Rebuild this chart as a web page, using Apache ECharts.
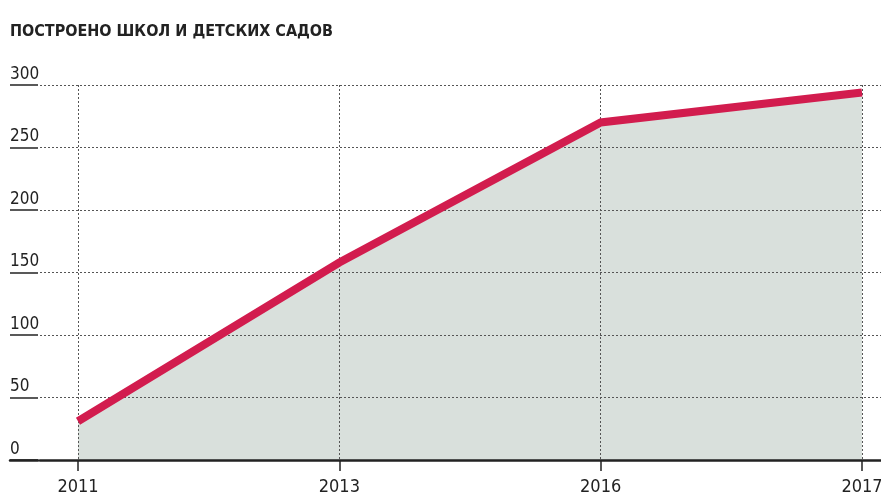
<!DOCTYPE html>
<html>
<head>
<meta charset="utf-8">
<script src="https://cdn.jsdelivr.net/npm/echarts@6/dist/echarts.min.js"></script>
<style>
  html, body { margin: 0; padding: 0; background: #fff; }
  #chart { width: 881px; height: 496px; }
</style>
</head>
<body>
<div id="chart"></div>
<script>
var years = ["2011", "2013", "2016", "2017"];
var built = [31, 158, 270, 294];
var yTicks = [0, 50, 100, 150, 200, 250, 300];

var font = "'Liberation Sans Narrow', 'Arial Narrow', 'DejaVu Sans Condensed', sans-serif";
var ink = "#222";
var dots = { color: "#555", width: 1, type: [2, 2] };

var chart = echarts.init(document.getElementById("chart"));

chart.setOption({
    animation: false,
    title: {
        text: "ПОСТРОЕНО ШКОЛ И ДЕТСКИХ САДОВ",
        left: 5,
        top: 19,
        textStyle: { fontFamily: font, fontWeight: "bold", fontSize: 16, color: ink }
    },
    grid: [
        // main plot
        { left: 78, right: 19, top: 85, bottom: 36, outerBoundsMode: "none" },
        // dotted horizontal grid and baseline
        { left: 40, right: 0, top: 85, bottom: 36, outerBoundsMode: "none" },
        // short solid underlines under y labels
        { left: 10, width: 28, top: 85, bottom: 36, outerBoundsMode: "none" }
    ],
    xAxis: [
        {
            gridIndex: 0,
            type: "category",
            data: years,
            boundaryGap: false,
            z: 2,
            axisLine: { show: false },
            axisTick: { show: true, length: 11, lineStyle: { color: ink, width: 1.5 } },
            axisLabel: { margin: 18, fontFamily: font, fontSize: 18, color: ink },
            splitLine: { show: true, lineStyle: dots }
        },
        {
            gridIndex: 1,
            type: "category",
            data: [""],
            z: 4,
            axisLine: { show: true, lineStyle: { color: ink, width: 2.5 } },
            axisTick: { show: false },
            axisLabel: { show: false }
        },
        {
            gridIndex: 2,
            type: "category",
            data: [""],
            z: 4,
            axisLine: { show: true, lineStyle: { color: ink, width: 2.5 } },
            axisTick: { show: false },
            axisLabel: { show: false }
        }
    ],
    yAxis: [
        { gridIndex: 0, type: "value", min: 0, max: 300, show: false },
        {
            gridIndex: 1,
            type: "value",
            min: 0,
            max: 300,
            interval: 50,
            z: 2,
            axisLine: { show: false },
            axisTick: { show: false },
            axisLabel: { show: false },
            splitLine: { show: true, lineStyle: dots }
        },
        {
            gridIndex: 2,
            type: "value",
            min: 0,
            max: 300,
            interval: 50,
            z: 2,
            axisLine: { show: false },
            axisTick: { show: false },
            axisLabel: {
                inside: true,
                margin: 0,
                align: "left",
                verticalAlign: "bottom",
                lineHeight: 17,
                padding: [0, 0, 2, 0],
                fontFamily: font,
                fontSize: 17,
                color: ink,
                formatter: function (v) { return yTicks.indexOf(v) >= 0 ? String(v) : ""; }
            },
            splitLine: { show: true, lineStyle: { color: ink, width: 1.5 } }
        }
    ],
    series: [
        {
            type: "line",
            xAxisIndex: 0,
            yAxisIndex: 0,
            data: built,
            z: 1,
            symbol: "none",
            lineStyle: { width: 0 },
            areaStyle: { color: "#d9e0dc", opacity: 1 }
        },
        {
            type: "line",
            xAxisIndex: 0,
            yAxisIndex: 0,
            data: built,
            z: 3,
            symbol: "none",
            lineStyle: { color: "#d21c4e", width: 8, cap: "butt", join: "miter" }
        }
    ]
});
</script>
</body>
</html>
